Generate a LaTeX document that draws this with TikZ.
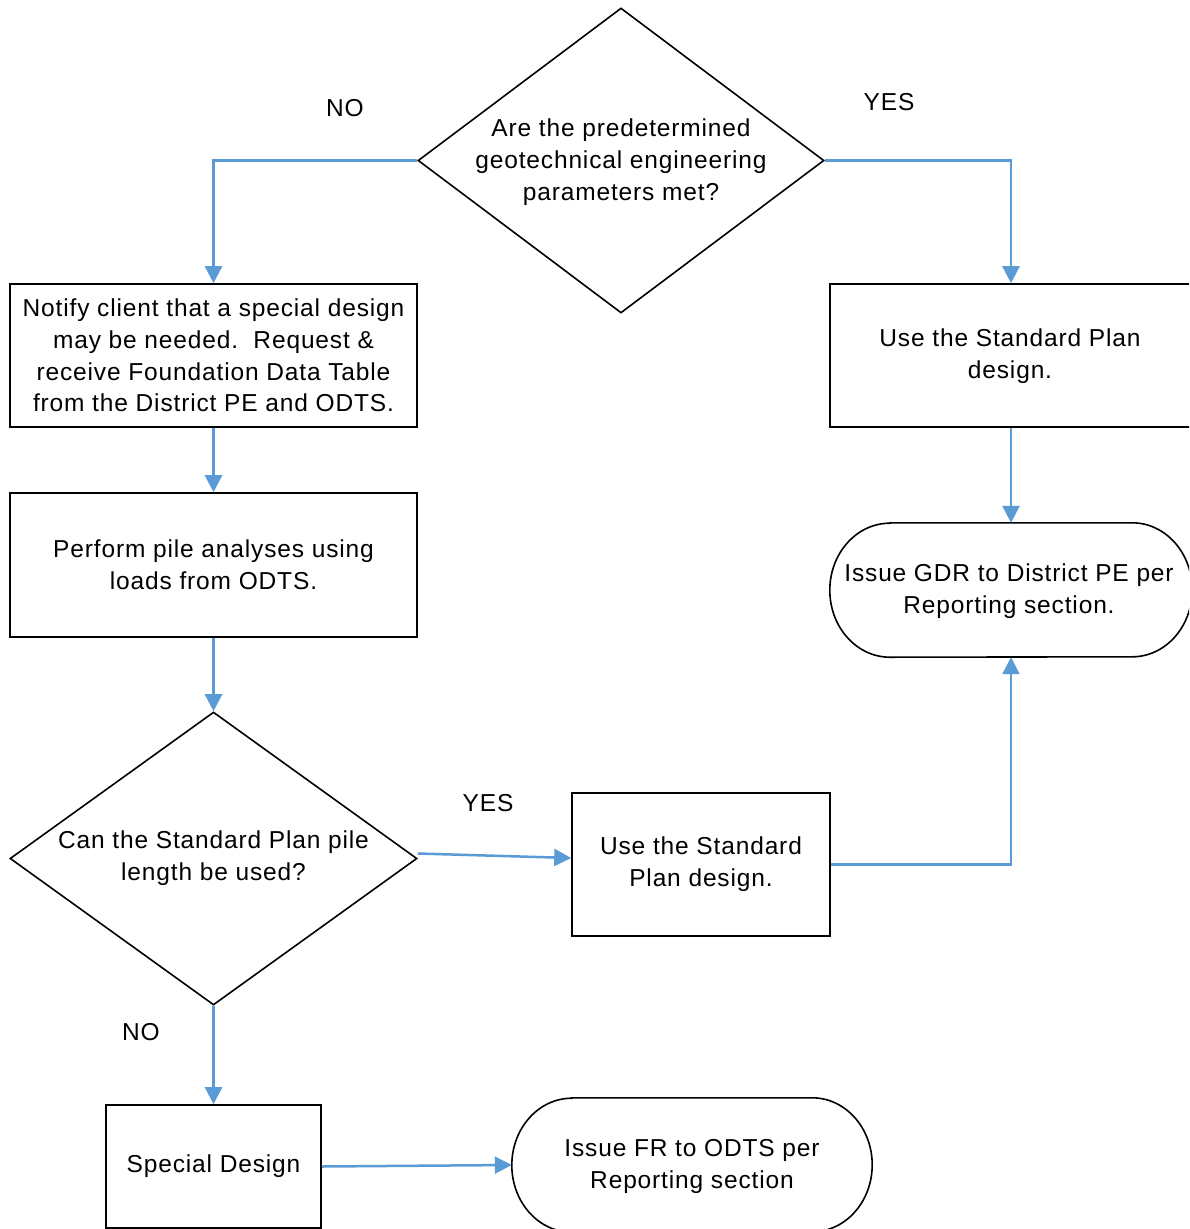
\documentclass[tikz,border=0pt]{standalone}
\usepackage{fontspec}
\setmainfont{Liberation Sans}[LetterSpace=3.5]
\usetikzlibrary{shapes.geometric,arrows.meta,calc}
\definecolor{flowblue}{HTML}{5B9BD5}
\begin{document}
\begin{tikzpicture}[x=1pt,y=-1pt,
  txt/.style={font=\fontsize{24.5}{31.7}\selectfont, align=center, inner sep=0pt},
  shapeline/.style={draw=black, line width=1.6pt},
  rectbox/.style={shapeline, rectangle, inner sep=0pt, align=center, font=\fontsize{24.5}{31.7}\selectfont},
  decision/.style={shapeline, diamond, inner sep=0pt},
  termbox/.style={rectangle, inner sep=0pt},
  flow/.style={draw=flowblue, line width=2.5pt, -{Triangle[length=17pt,width=17pt]}}]
\useasboundingbox (0,0) rectangle (1189,1229);
\fill[white] (0,0) rectangle (1189,1229);
\clip (0,0) rectangle (1189,1229);

% shapes
\node[decision, minimum width=406pt, minimum height=305pt] (d1) at (621,160.5) {};
\node[txt] (d1t) at ($(d1.center)+(0,1.5)$) {Are the predetermined\\geotechnical engineering\\parameters met?};

\node[rectbox, minimum width=407pt, minimum height=143pt] (b1) at (213.5,355.5)
  {Notify client that a special design\\may be needed.\ \ Request \&\\receive Foundation Data Table\\from the District PE and ODTS.};
\node[rectbox, minimum width=407pt, minimum height=144pt] (b2) at (213.5,565)
  {Perform pile analyses using\\loads from ODTS.};

\node[decision, minimum width=407pt, minimum height=293pt] (d2) at (213.5,858.5) {};
\node[txt] (d2t) at (d2.center) {Can the Standard Plan pile\\length be used?};

\node[rectbox, minimum width=258pt, minimum height=143pt] (b3) at (701,864.5)
  {Use the Standard\\Plan design.};

\node[rectbox, minimum width=362pt, minimum height=143pt] (rb) at (1011,355.5) {};
\node[txt] (rbt) at (1010,356.5) {Use the Standard Plan\\design.};

\node[termbox, minimum width=362pt, minimum height=134pt] (gdr) at (1011,590) {};
\draw[shapeline] ($(gdr.north west)+(60,0)$) -- ($(gdr.north east)+(-60,0)$)
  arc[start angle=90,end angle=-90,x radius=60pt,y radius=67pt]
  -- ($(gdr.south west)+(60,0)$)
  arc[start angle=270,end angle=90,x radius=60pt,y radius=67pt] -- cycle;
\node[txt] (gdrt) at (1009,591.5) {Issue GDR to District PE per\\Reporting section.};

\node[rectbox, minimum width=215pt, minimum height=123pt] (sd) at (213.5,1166.5) {Special Design};

\node[termbox, minimum width=360pt, minimum height=134pt] (fr) at (692,1165) {};
\draw[shapeline] ($(fr.north west)+(60,0)$) -- ($(fr.north east)+(-60,0)$)
  arc[start angle=90,end angle=-90,x radius=60pt,y radius=67pt]
  -- ($(fr.south west)+(60,0)$)
  arc[start angle=270,end angle=90,x radius=60pt,y radius=67pt] -- cycle;
\node[txt] (frt) at (692,1166.5) {Issue FR to ODTS per\\Reporting section};

% labels
\node[txt] (no1) at (345,108) {NO};
\node[txt] (yes1) at (889,102) {YES};
\node[txt] (yes2) at (488,803) {YES};
\node[txt] (no2) at (141,1032) {NO};

% connectors
\draw[flow] (d1.west) -| (b1.north);
\draw[flow] (d1.east) -| (rb.north);
\draw[flow] (b1.south) -- (b2.north);
\draw[flow] (b2.south) -- (d2.north);
\draw[flow] ($(d2.east)+(0,-5)$) -- ($(b3.west)+(0,-6.5)$);
\draw[flow] (b3.east) -| (gdr.south);
\draw[flow] (rb.south) -- (gdr.north);
\draw[flow] (d2.south) -- (sd.north);
\draw[flow] (sd.east) -- (fr.west);
\end{tikzpicture}
\end{document}
